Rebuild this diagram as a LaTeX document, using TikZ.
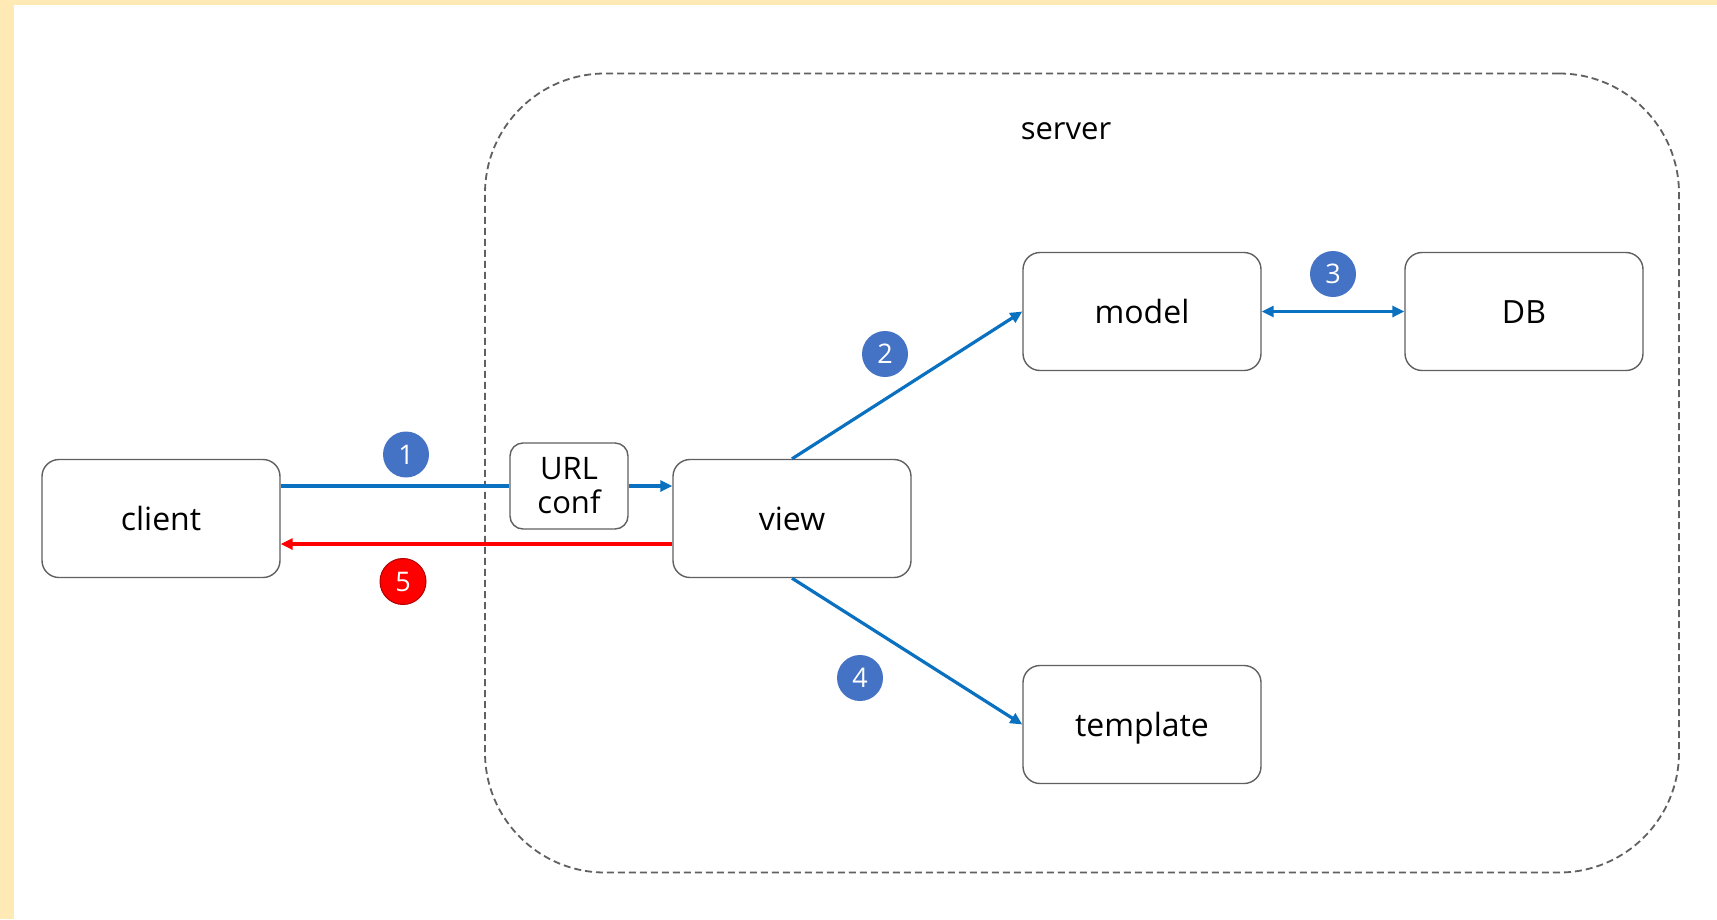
\documentclass[tikz,border=0pt]{standalone}
\usepackage{fontspec}
\setmainfont{Open Sans}
\usetikzlibrary{arrows.meta,calc}
\definecolor{cream}{HTML}{FFEAB6}
\definecolor{boxline}{HTML}{606060}
\definecolor{flowblue}{HTML}{0A70C0}
\definecolor{badgeblue}{HTML}{4472C4}
\definecolor{flowred}{HTML}{FF0000}
\begin{document}
\begin{tikzpicture}[x=1pt,y=-1pt,
  box/.style={draw=boxline, line width=1.4pt, rounded corners=17pt,
    minimum width=238pt, minimum height=118pt, inner sep=0pt,
    text height=23pt, text depth=0pt,
    font=\fontsize{32}{38}\selectfont},
  smallbox/.style={draw=boxline, line width=1.4pt, rounded corners=13pt,
    minimum width=118pt, minimum height=86pt, inner sep=0pt,
    align=center, font=\fontsize{31}{34}\selectfont},
  flow/.style={draw=flowblue, line width=3.2pt, -{Triangle[length=12pt,width=11pt]}},
  flowboth/.style={flow, {Triangle[length=12pt,width=11pt]}-{Triangle[length=12pt,width=11pt]}},
  backflow/.style={draw=flowred, line width=3.2pt, -{Triangle[length=12pt,width=11pt]}},
  badge/.style={circle, fill=badgeblue, text=white, minimum size=46pt, inner sep=0pt,
    font=\fontsize{27}{27}\selectfont},
  redbadge/.style={badge, fill=flowred, draw=red!70!black, line width=1pt}]
  % page frame
  \fill[cream] (0,0) rectangle (1717,919);
  \fill[white] (14,5) rectangle (1717,919);
  \useasboundingbox (0,0) rectangle (1717,919);

  % server boundary
  \node[draw=boxline, line width=1.8pt, dash pattern=on 7pt off 4pt, rounded corners=120pt,
        minimum width=1194pt, minimum height=799pt] (server) at (1082,473) {};
  \node[font=\fontsize{31}{36}\selectfont] (serverlabel) at (1066,131) {server};

  % components
  \node[box] (client) at (161,518.5) {client};
  \node[smallbox] (url) at (569,486) {URL\\conf};
  \node[box] (view) at (792,518.5) {view};
  \node[box] (model) at (1142,311.5) {model};
  \node[box] (db) at (1524,311.5) {DB};
  \node[box] (template) at (1142,724.5) {template};

  % request / response flows
  \draw[draw=flowblue, line width=3.2pt] (client.east |- url.west) -- (url.west);
  \draw[flow] (url.east) -- (url.east -| view.west);
  \draw[flow] (view.north) -- (model.west);
  \draw[flowboth] (model.east) -- (db.west);
  \draw[flow] (view.south) -- (template.west);
  \coordinate (ret) at ([yshift=-25.5pt]view.west);
  \draw[backflow] (ret) -- (ret -| client.east);

  % step numbers
  \node[badge] (s1) at (406,454.5) {1};
  \node[badge] (s2) at (885,354) {2};
  \node[badge] (s3) at (1333,274) {3};
  \node[badge] (s4) at (860,678) {4};
  \node[redbadge] (s5) at (403,581.5) {5};
\end{tikzpicture}
\end{document}
